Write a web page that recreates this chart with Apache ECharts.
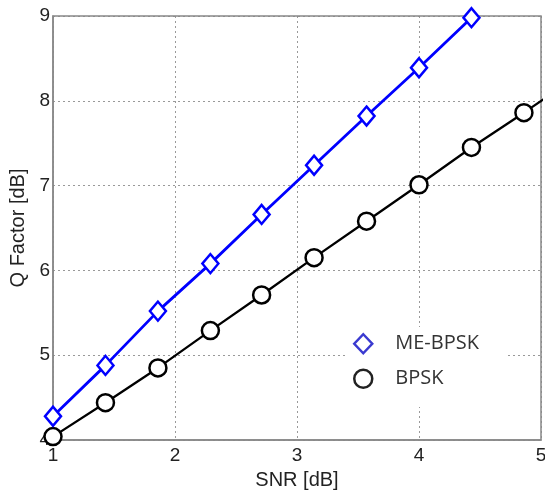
<!DOCTYPE html>
<html><head><meta charset="utf-8">
<script src="https://cdn.jsdelivr.net/npm/echarts@6/dist/echarts.min.js"></script>
<style>html,body{margin:0;padding:0;background:#fff}#c{width:545px;height:493px}</style>
</head><body><div id="c"></div>
<script>
const seriesNames = ['ME-BPSK', 'BPSK'];
const meX = [1, 1.43, 1.86, 2.29, 2.71, 3.14, 3.57, 4.0, 4.43];
const meY = [4.28, 4.88, 5.52, 6.08, 6.66, 7.24, 7.82, 8.39, 8.98];
const bpskX = [1, 1.43, 1.86, 2.29, 2.71, 3.14, 3.57, 4.0, 4.43, 4.86, 5.29];
const bpskY = [4.04, 4.44, 4.85, 5.29, 5.71, 6.15, 6.58, 7.01, 7.45, 7.86, 8.28];
const xTicks = [1, 2, 3, 4, 5];
const yTicks = [4, 5, 6, 7, 8, 9];

const chart = echarts.init(document.getElementById('c'));
const font = 'Arial, "Liberation Sans", sans-serif';
chart.setOption({
  animation: false,
  grid: {left: 53, right: 4, top: 16, bottom: 53, containLabel: false, outerBoundsMode: 'none'},
  xAxis: {
    type: 'value', min: xTicks[0], max: xTicks[xTicks.length-1], interval: 1,
    name: 'SNR [dB]', nameLocation: 'middle', nameGap: 30,
    nameTextStyle: {fontFamily: font, fontSize: 20, color: '#222'},
    axisLine: {lineStyle: {color: '#888', width: 1.5}},
    axisTick: {show: false},
    axisLabel: {fontFamily: font, fontSize: 19, color: '#222', margin: 6},
    splitLine: {show: true, lineStyle: {color: '#999', type: [2, 3], width: 1}}
  },
  yAxis: {
    type: 'value', min: yTicks[0], max: yTicks[yTicks.length-1], interval: 1,
    name: 'Q Factor [dB]', nameLocation: 'middle', nameGap: 23,
    nameTextStyle: {fontFamily: font, fontSize: 20, color: '#222'},
    axisLine: {show: true, lineStyle: {color: '#888', width: 1.5}},
    axisTick: {show: false},
    axisLabel: {fontFamily: font, fontSize: 19, color: '#222', margin: 3},
    splitLine: {show: true, lineStyle: {color: '#999', type: [2, 3], width: 1}}
  },
  graphic: [
    {type: 'rect', shape: {x: 53, y: 16, width: 488, height: 424}, style: {fill: 'none', stroke: '#888', lineWidth: 1.5}, z: 1, silent: true}
  ],
  legend: {
    left: 345, top: 327, orient: 'vertical', itemGap: 14,
    backgroundColor: '#fff', padding: [6, 28, 18, 8],
    itemWidth: 18, itemHeight: 19,
    textStyle: {fontFamily: '"Open Sans", sans-serif', fontSize: 20, color: '#333', padding: [0, 0, 0, 18]},
    data: [
      {name: seriesNames[0], icon: 'diamond', itemStyle: {color: '#fff', borderColor: '#3a3ad0', borderWidth: 2.5}},
      {name: seriesNames[1], icon: 'circle', itemStyle: {color: '#fff', borderColor: '#222', borderWidth: 2.5}}
    ]
  },
  series: [
    {
      name: seriesNames[0], type: 'line', data: meX.map((x, i) => [x, meY[i]]),
      symbol: 'diamond', symbolSize: [16, 19], showAllSymbol: true, clip: true,
      lineStyle: {color: '#0000ff', width: 2.8},
      itemStyle: {color: '#fff', borderColor: '#0000ff', borderWidth: 2.5}, z: 3
    },
    {
      name: seriesNames[1], type: 'line', data: bpskX.map((x, i) => [x, bpskY[i]]),
      symbol: 'circle', symbolSize: 17, showAllSymbol: true, clip: true,
      lineStyle: {color: '#000', width: 2.3},
      itemStyle: {color: '#fff', borderColor: '#000', borderWidth: 2.5}, z: 2
    }
  ]
});
</script></body></html>
